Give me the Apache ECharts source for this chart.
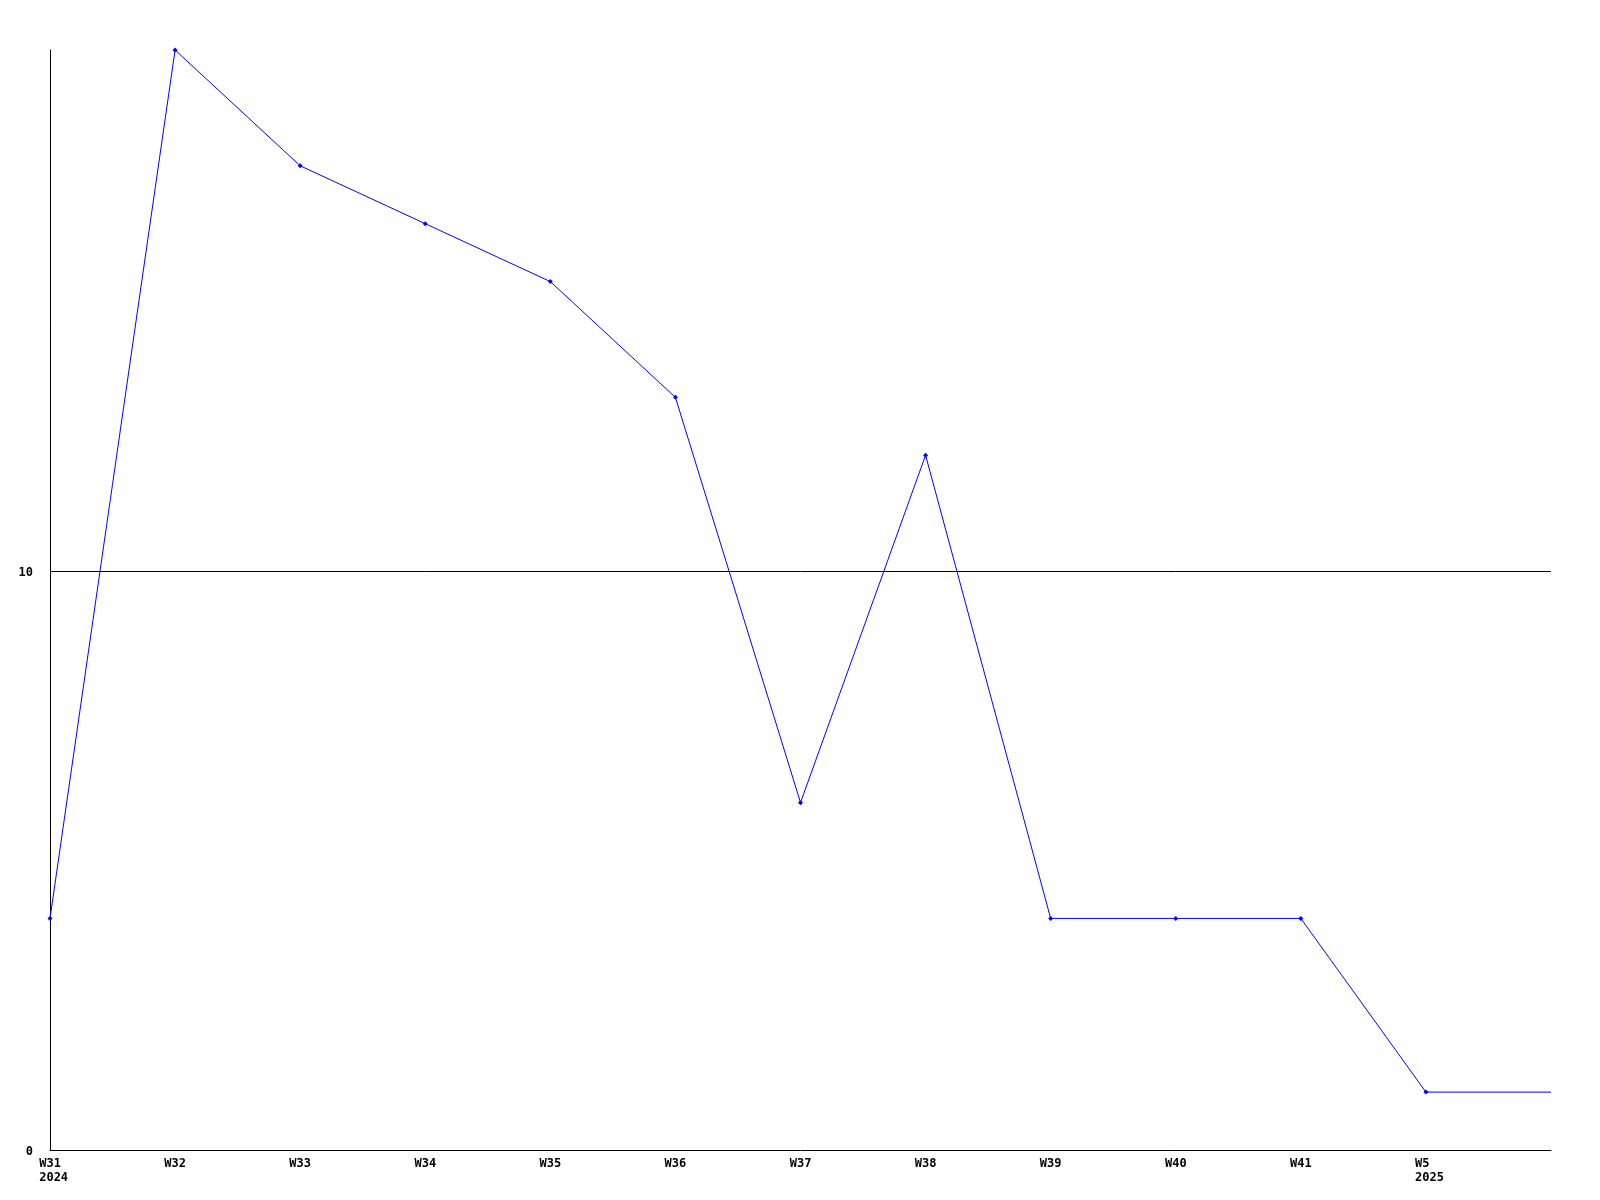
<!DOCTYPE html>
<html><head><meta charset="utf-8">
<script src="https://cdn.jsdelivr.net/npm/echarts@6/dist/echarts.min.js"></script>
<style>html,body{margin:0;padding:0;background:#fff}#c{width:1600px;height:1200px}</style>
</head><body><div id="c"></div>
<script>
var weeks = ['W31','W32','W33','W34','W35','W36','W37','W38','W39','W40','W41','W5','W6'];
var years = ['2024','','','','','','','','','','','2025',''];
var values = [4,19,17,16,15,13,6,12,4,4,4,1,1];
var yTicks = [0,10];

var FONT = '"DejaVu Sans Mono", monospace';
var CH = 7.2;
var chart = echarts.init(document.getElementById('c'));
var seriesData = values.map(function(v,i){
  return i===values.length-1 ? {value:v, symbol:'none'} : v;
});
var txt = {fontFamily:FONT,fontSize:12,fontWeight:'bold',color:'#000',lineHeight:14,width:3*CH,align:'left'};
chart.setOption({
  animation:false,
  backgroundColor:'#fff',
  grid:{left:50,right:49,top:50,bottom:50,containLabel:false},
  xAxis:{
    type:'category', data:weeks, boundaryGap:false,
    axisLine:{lineStyle:{color:'#000',width:1}},
    axisTick:{show:false},
    splitLine:{show:false},
    axisLabel:{
      interval:function(i){return i<weeks.length-1;},
      margin:7,
      formatter:function(v,i){
        var s='{w|'+v+'}';
        if(years[i]) s+='\n{w|'+years[i]+'}';
        return s;
      },
      rich:{ w:txt }
    }
  },
  yAxis:{
    type:'value', min:0, max:19, interval:10,
    axisLine:{show:true,lineStyle:{color:'#000',width:1}},
    axisTick:{show:false},
    splitLine:{show:false},
    axisLabel:{
      showMaxLabel:false, margin:17,
      formatter:function(v){return yTicks.indexOf(v)>=0?'{n|'+v+'}':'';},
      rich:{ n:{fontFamily:FONT,fontSize:12,fontWeight:'bold',color:'#000',lineHeight:14,padding:[4,0,0,0]} }
    }
  },
  series:[{
    type:'line', data:seriesData,
    lineStyle:{color:'#0000ff',width:1},
    itemStyle:{color:'#0000ff'},
    symbol:'diamond', symbolSize:5, showSymbol:true,
    markLine:{
      silent:true, symbol:'none', label:{show:false},
      lineStyle:{color:'#000',width:1,type:'solid'},
      data:[{yAxis:10}]
    },
    z:3
  }]
});
</script></body></html>
